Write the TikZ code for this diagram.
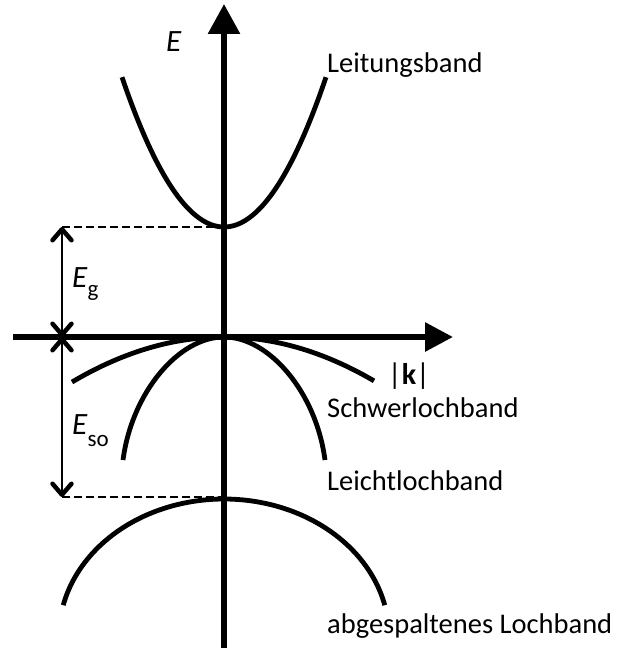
\documentclass[tikz,border=0pt]{standalone}
\usepackage{fontspec}
\setmainfont{Carlito}
\usetikzlibrary{arrows.meta}
\begin{document}
\begin{tikzpicture}[x=1pt,y=-1pt,
  axis/.style={line width=6pt},
  band/.style={line width=4.8pt},
  guide/.style={line width=2pt, dash pattern=on 8pt off 4pt},
  barb/.tip={Straight Barb[length=11pt,width=19pt,line width=4.5pt,round]},
  dim/.style={line width=2pt, barb-barb},
  lbl/.style={anchor=base west, inner sep=0pt, font=\fontsize{28.5}{32}\selectfont},
  sym/.style={anchor=base west, inner sep=0pt, font=\fontsize{31}{34}\selectfont},
]
\useasboundingbox (0,0) rectangle (629,650);
\coordinate (O) at (224,337);
\coordinate (Ytop) at (224,4);
\coordinate (Ybot) at (224,648);
\coordinate (Xl) at (13,337);
\coordinate (Xr) at (453,337);
\coordinate (Cmin) at (224,227);
\coordinate (Smax) at (224,497);
\coordinate (Dg) at (62,227);
\coordinate (D0) at (62,337);
\coordinate (Ds) at (62,497);
\coordinate (LHl) at (123,460);
\coordinate (LHr) at (325,460);

% dashed guides
\draw[guide] (Dg) -- (Cmin);
\draw[guide] (Ds) -- (Smax);

% axes
\draw[axis, -{Triangle[length=30pt,width=31pt]}] (Ybot) -- (Ytop);
\draw[axis, -{Triangle[length=28pt,width=28pt]}] (Xl) -- (Xr);

% bands
\draw[band] plot[domain=-10.2:10.2, samples=80, smooth] ({224+10*\x}, {227-1.44*\x*\x});
\draw[band] plot[domain=-15.2:15.0, samples=80, smooth] ({224+10*\x}, {337+0.195*\x*\x});
\draw[band] (LHl) .. controls (132,392) and (179,337) .. (O)
                  .. controls (269,337) and (316,392) .. (LHr);
\draw[band] plot[domain=-77:77, samples=80, smooth] ({224+165*sin(\x)}, {636-137*cos(\x)});

% energy arrows
\draw[dim] (Dg) -- (D0);
\draw[dim] (D0) -- (Ds);

% labels
\node[sym] (E) at (166,52) {\textit{E}};
\node[lbl] (lb) at (327,73) {Leitungsband};
\node[anchor=base, inner sep=0pt, font=\fontsize{30}{34}\selectfont] (k) at (409,384) {|\textbf{k}|};
\node[lbl] (hh) at (327,417) {Schwerlochband};
\node[lbl] (lh) at (327,490) {Leichtlochband};
\node[lbl] (so) at (327,633) {abgespaltenes Lochband};
\node[sym] (eg) at (72,287) {\textit{E}\raisebox{-9pt}{\fontsize{23}{23}\selectfont g}};
\node[sym] (eso) at (72,434) {\textit{E}\raisebox{-12pt}{\fontsize{23}{23}\selectfont so}};
\end{tikzpicture}
\end{document}
